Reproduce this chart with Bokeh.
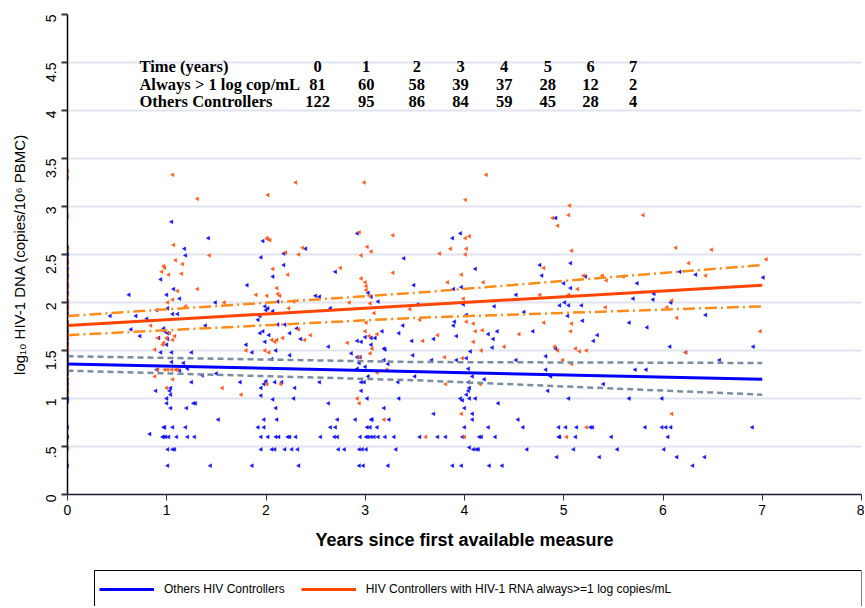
import math
from bokeh.plotting import figure
from bokeh.layouts import column
from bokeh.models import Range1d, FixedTicker, Legend, LegendItem, ColumnDataSource, BoxAnnotation
from bokeh.core.properties import value
from bokeh.embed import file_html
from bokeh.resources import INLINE

# ---------------- data ----------------
table_years = [0, 1, 2, 3, 4, 5, 6, 7]
n_always = [81, 60, 58, 39, 37, 28, 12, 2]
n_others = [122, 95, 86, 84, 59, 45, 28, 4]
table_row_titles = ["Time (years)", "Always > 1 log cop/mL", "Others Controllers"]

y_ticks = [0, 0.5, 1, 1.5, 2, 2.5, 3, 3.5, 4, 4.5, 5]
y_tick_labels = ["0", ".5", "1", "1.5", "2", "2.5", "3", "3.5", "4", "4.5", "5"]
x_ticks = [0, 1, 2, 3, 4, 5, 6, 7, 8]

legend_labels = ["Others HIV Controllers",
                 "HIV Controllers with HIV-1 RNA always>=1 log copies/mL"]

# regression fits and confidence bands
fit_x = [0, 7]
others_fit = [1.36, 1.20]
always_fit = [1.76, 2.18]
ci_x = [0, 3.5, 7]
others_ci_hi = [1.44, 1.38, 1.37]
others_ci_lo = [1.29, 1.19, 1.04]
always_ci_hi = [1.86, 2.10, 2.39]
always_ci_lo = [1.66, 1.84, 1.96]

# individual measures (years, log10 DNA) - HIV-1 RNA always >= 1 log
always_year0 = [(0, 3.37), (0, 3.30), (0, 2.90), (0, 2.55), (0, 2.45), (0, 2.40), (0, 2.32), (0, 2.25),
                (0, 2.20), (0, 2.15), (0, 2.08), (0, 2.02), (0, 1.97), (0, 1.92), (0, 1.86), (0, 1.80),
                (0, 1.74), (0, 1.68), (0, 1.62), (0, 1.55), (0, 1.50), (0, 1.42), (0, 1.35), (0, 1.28),
                (0, 1.20), (0, 1.12), (0, 1.05), (0, 0.48)]
always_years1_2 = [(1.06, 3.33), (1.31, 3.08), (2.30, 3.25), (2.02, 3.12), (2.02, 2.66), (2.04, 2.65),
                   (2.01, 2.67), (1.07, 2.60), (1.43, 2.49), (2.20, 2.52), (0.97, 2.38), (0.98, 2.36),
                   (0.95, 2.32), (1.02, 2.29), (1.16, 2.40), (1.15, 2.30), (1.09, 2.44), (1.31, 2.14),
                   (1.11, 2.12), (1.06, 2.03), (1.01, 2.00), (1.19, 1.96), (2.07, 2.35), (2.22, 2.29),
                   (2.11, 2.15), (2.12, 2.09), (2.14, 2.07), (2.01, 2.07), (1.90, 2.08), (2.28, 2.01),
                   (2.23, 1.94), (1.58, 2.00), (0.84, 1.76), (0.91, 1.63), (1.00, 1.63), (0.96, 1.56),
                   (1.03, 1.68), (1.06, 1.61), (1.08, 1.65), (0.97, 1.58), (2.06, 1.61), (2.09, 1.59),
                   (2.11, 1.61), (2.17, 1.63), (1.80, 1.50), (1.99, 1.50), (2.03, 1.48), (0.88, 1.51),
                   (0.91, 1.30), (0.98, 1.30), (1.01, 1.30), (1.05, 1.30), (1.09, 1.30), (1.11, 1.30),
                   (0.88, 1.23), (1.06, 1.20), (1.00, 1.11), (1.56, 1.11), (1.75, 1.04), (2.01, 1.15),
                   (2.15, 1.15)]
always_years3_4 = [(2.99, 3.25), (4.22, 3.33), (4.01, 3.07), (2.94, 2.73), (3.28, 2.70), (3.02, 2.58),
                   (3.06, 2.53), (2.96, 2.49), (2.37, 2.57), (2.33, 2.50), (3.75, 2.51), (3.86, 2.56),
                   (4.01, 2.67), (4.05, 2.69), (4.02, 2.56), (4.01, 2.50), (2.75, 2.36), (3.28, 2.31),
                   (3.97, 2.29), (2.96, 2.25), (3.00, 2.21), (3.01, 2.17), (3.01, 2.13), (3.04, 2.07),
                   (2.84, 2.00), (3.83, 2.21), (4.19, 2.21), (3.99, 2.04), (3.05, 1.99), (3.09, 1.89),
                   (3.45, 1.93), (3.55, 1.82), (3.01, 1.79), (4.02, 1.80), (4.09, 1.78), (2.33, 1.72),
                   (2.45, 1.66), (2.39, 1.61), (3.00, 1.70), (3.12, 1.67), (3.04, 1.65), (3.73, 1.66),
                   (3.58, 1.60), (4.11, 1.70), (4.18, 1.71), (4.09, 1.59), (2.82, 1.58), (4.40, 1.54),
                   (3.07, 1.52), (3.05, 1.47), (4.17, 1.50), (3.80, 1.43), (3.98, 1.42), (2.94, 1.43),
                   (3.22, 1.30), (3.12, 1.27), (3.81, 1.15), (4.16, 1.15), (2.92, 1.00), (2.94, 0.95),
                   (3.19, 0.78), (3.97, 0.84), (3.61, 0.60), (4.00, 0.60)]
always_years5_7 = [(5.06, 3.01), (5.05, 2.91), (4.89, 2.88), (4.94, 2.80), (5.80, 2.91), (5.08, 2.54),
                   (6.13, 2.57), (6.49, 2.55), (6.26, 2.41), (7.04, 2.45), (4.80, 2.36), (5.20, 2.28),
                   (5.39, 2.28), (5.43, 2.23), (5.60, 2.27), (6.43, 2.28), (5.14, 2.14), (5.05, 2.08),
                   (4.76, 2.08), (6.09, 2.02), (6.04, 1.95), (5.42, 1.95), (6.14, 1.84), (4.80, 1.79),
                   (5.08, 1.78), (5.07, 1.70), (4.55, 1.67), (6.98, 1.70), (4.91, 1.54), (4.94, 1.50),
                   (5.12, 1.52), (5.16, 1.49), (5.23, 1.50), (6.23, 1.48), (4.99, 1.40), (5.08, 1.36),
                   (6.09, 0.84), (5.23, 0.70), (5.03, 0.60)]

# individual measures - other HIV controllers
others_year0 = [(0, 2.57), (0, 2.50), (0, 2.42), (0, 2.35), (0, 2.28), (0, 2.18), (0, 2.10), (0, 2.00),
                (0, 1.95), (0, 1.88), (0, 1.78), (0, 1.70), (0, 1.63), (0, 1.57), (0, 1.50), (0, 1.45),
                (0, 1.40), (0, 1.33), (0, 1.26), (0, 1.20), (0, 1.15), (0, 1.08), (0, 1.00), (0, 0.97),
                (0, 0.70), (0, 0.60), (0, 0.30)]
others_years1_2 = [(1.05, 2.84), (1.42, 2.67), (1.18, 2.56), (1.19, 2.49), (1.97, 2.64), (1.95, 2.47),
                   (2.18, 2.51), (2.18, 2.39), (0.94, 2.24), (1.07, 2.14), (1.00, 2.08), (1.13, 2.04),
                   (2.07, 2.27), (1.81, 2.18), (0.62, 2.08), (1.49, 2.00), (0.90, 1.92), (1.01, 1.94),
                   (1.06, 1.88), (1.11, 1.88), (0.43, 1.86), (0.69, 1.86), (1.99, 1.96), (2.02, 1.94),
                   (2.00, 1.92), (2.07, 1.91), (2.12, 2.01), (0.80, 1.83), (1.39, 1.76), (0.64, 1.72),
                   (0.73, 1.65), (0.97, 1.73), (0.98, 1.70), (1.01, 1.68), (0.92, 1.63), (1.01, 1.62),
                   (1.00, 1.56), (1.92, 1.82), (1.94, 1.86), (1.97, 1.70), (1.94, 1.68), (1.99, 1.59),
                   (2.03, 1.66), (2.12, 1.77), (2.19, 1.77), (2.24, 1.68), (2.31, 1.73), (1.80, 1.56),
                   (1.86, 1.48), (0.94, 1.48), (1.05, 1.48), (1.25, 1.48), (2.10, 1.50), (2.06, 1.41),
                   (0.90, 1.30), (1.05, 1.38), (1.17, 1.37), (1.21, 1.31), (1.13, 1.29), (1.36, 1.24),
                   (1.50, 1.26), (1.74, 1.17), (1.25, 1.17), (0.89, 1.08), (1.04, 1.11), (1.03, 1.08),
                   (1.04, 1.04), (1.00, 1.00), (1.00, 0.95), (1.04, 0.90), (1.20, 0.90), (1.27, 0.95),
                   (1.29, 0.95), (1.95, 1.11), (1.98, 1.15), (2.00, 1.18), (2.09, 1.17), (2.16, 1.17),
                   (1.95, 1.03), (2.07, 0.99), (2.10, 0.90), (2.28, 1.00), (1.52, 0.78), (1.98, 0.78),
                   (2.11, 0.78), (0.97, 0.70), (0.98, 0.70), (1.06, 0.70), (1.19, 0.70), (1.92, 0.70),
                   (1.98, 0.70), (0.96, 0.60), (0.97, 0.60), (0.99, 0.60), (1.02, 0.60), (1.10, 0.60),
                   (1.21, 0.60), (1.28, 0.60), (1.95, 0.60), (2.02, 0.60), (2.10, 0.60), (2.13, 0.60),
                   (2.22, 0.60), (0.83, 0.63), (1.01, 0.47), (1.06, 0.47), (1.08, 0.47), (1.95, 0.47),
                   (2.06, 0.47), (2.09, 0.47), (2.19, 0.47), (1.01, 0.30), (1.44, 0.30), (1.86, 0.30)]
others_years3_4 = [(2.92, 2.72), (3.88, 2.67), (3.96, 2.72), (2.40, 2.56), (3.39, 2.46), (2.70, 2.32),
                   (4.11, 2.35), (3.49, 2.18), (2.50, 2.07), (2.54, 2.06), (3.89, 2.14), (3.97, 2.16),
                   (3.06, 2.06), (3.03, 2.10), (3.13, 2.01), (2.65, 1.94), (3.53, 1.98), (3.99, 1.98),
                   (4.30, 1.96), (4.52, 2.08), (4.02, 1.87), (3.38, 1.76), (3.90, 1.80), (3.89, 1.76),
                   (3.17, 1.70), (3.34, 1.68), (3.92, 1.65), (4.24, 1.67), (4.33, 1.70), (4.29, 1.62),
                   (2.35, 1.62), (2.63, 1.54), (2.92, 1.60), (2.96, 1.59), (3.00, 1.64), (3.06, 1.63),
                   (3.10, 1.63), (3.06, 1.56), (3.47, 1.60), (3.69, 1.62), (4.28, 1.53), (3.19, 1.52),
                   (3.20, 1.51), (2.86, 1.47), (2.92, 1.43), (2.95, 1.43), (2.94, 1.37), (2.24, 1.45),
                   (3.48, 1.45), (4.06, 1.49), (3.67, 1.40), (3.92, 1.40), (4.02, 1.42), (3.19, 1.40),
                   (3.23, 1.36), (3.00, 1.33), (2.92, 1.31), (3.03, 1.23), (4.52, 1.40), (3.50, 1.23),
                   (3.33, 1.17), (4.04, 1.31), (4.08, 1.23), (4.04, 1.17), (4.20, 1.20), (2.29, 1.11),
                   (2.54, 1.17), (2.96, 1.17), (2.99, 1.17), (2.96, 1.08), (4.05, 1.11), (4.04, 1.08),
                   (4.02, 1.04), (3.02, 1.00), (3.34, 1.00), (3.96, 1.00), (3.98, 0.98), (4.05, 1.00),
                   (4.11, 1.00), (4.34, 0.95), (3.19, 0.90), (3.69, 0.84), (4.00, 0.90), (4.08, 0.84),
                   (2.63, 0.95), (2.72, 0.78), (2.90, 0.78), (3.06, 0.78), (3.07, 0.78), (3.24, 0.78),
                   (4.08, 0.78), (4.54, 0.78), (2.65, 0.70), (2.70, 0.70), (3.02, 0.70), (3.05, 0.70),
                   (3.12, 0.70), (4.00, 0.70), (4.24, 0.70), (2.24, 0.60), (2.30, 0.60), (2.55, 0.60),
                   (2.69, 0.60), (2.72, 0.60), (2.95, 0.60), (3.01, 0.60), (3.03, 0.60), (3.06, 0.60),
                   (3.09, 0.60), (3.13, 0.60), (3.20, 0.60), (3.29, 0.60), (3.55, 0.60), (3.73, 0.60),
                   (3.81, 0.60), (3.98, 0.60), (4.15, 0.60), (4.17, 0.60), (4.31, 0.60), (2.26, 0.47),
                   (2.32, 0.47), (2.73, 0.47), (2.79, 0.47), (2.94, 0.47), (2.97, 0.47), (3.01, 0.47),
                   (3.31, 0.47), (4.05, 0.49), (4.09, 0.47), (4.12, 0.47), (4.14, 0.47), (4.63, 0.47),
                   (2.33, 0.30), (2.94, 0.30), (2.98, 0.30), (3.23, 0.30), (3.88, 0.30), (3.97, 0.30),
                   (4.25, 0.30), (4.38, 0.30)]
others_years5_7 = [(4.92, 2.88), (4.76, 2.39), (5.07, 2.41), (4.78, 2.28), (5.00, 2.20), (5.07, 2.15),
                   (5.22, 2.27), (5.74, 2.20), (6.17, 2.32), (6.33, 2.29), (7.01, 2.26), (5.91, 2.09),
                   (5.70, 2.04), (5.90, 2.03), (4.96, 1.97), (5.01, 2.00), (5.05, 1.97), (5.18, 1.97),
                   (6.08, 2.00), (4.60, 1.90), (5.04, 1.86), (6.43, 1.87), (5.19, 1.81), (5.66, 1.79),
                   (4.69, 1.70), (5.84, 1.74), (5.34, 1.66), (5.30, 1.60), (6.07, 1.54), (4.92, 1.52),
                   (6.91, 1.54), (4.82, 1.44), (6.23, 1.48), (6.57, 1.40), (4.82, 1.30), (4.87, 1.23),
                   (5.72, 1.30), (5.83, 1.30), (5.40, 1.15), (4.84, 1.08), (5.05, 1.00), (5.66, 1.00),
                   (5.99, 1.00), (4.59, 0.70), (4.95, 0.70), (5.02, 0.70), (5.13, 0.70), (5.27, 0.70),
                   (5.29, 0.70), (5.82, 0.70), (5.99, 0.70), (6.03, 0.70), (6.08, 0.70), (6.90, 0.70),
                   (4.95, 0.60), (4.96, 0.60), (5.12, 0.60), (5.48, 0.60), (6.05, 0.60), (5.10, 0.47),
                   (5.54, 0.47), (6.01, 0.47), (4.93, 0.39), (5.36, 0.39), (6.14, 0.39), (6.42, 0.39),
                   (6.30, 0.30)]

# ---------------- styles ----------------
BLUE = "#0000FF"
RED = "#FF4500"
ORANGE = "#FF8C1A"
GREY = "#7B8EA0"
SANS = "Liberation Sans"
SERIF = "Liberation Serif"

p = figure(width=864, height=558, x_range=Range1d(0, 8), y_range=Range1d(0, 5),
           output_backend="svg", toolbar_location=None,
           min_border_left=67, min_border_right=3, min_border_top=14, min_border_bottom=64)
p.outline_line_color = None
p.background_fill_color = "white"
p.border_fill_color = "white"

# axes
yt = FixedTicker(ticks=y_ticks)
p.yaxis.ticker = yt
p.ygrid.ticker = yt
p.yaxis.major_label_overrides = {(int(t) if float(t).is_integer() else t): lab
                                 for t, lab in zip(y_ticks, y_tick_labels)}
p.yaxis.major_label_orientation = math.pi / 2
p.yaxis.axis_label = "log\u2081\u2080 HIV-1 DNA (copies/10\u2076 PBMC)"
p.yaxis.axis_label_text_font = SANS
p.yaxis.axis_label_text_font_style = "normal"
p.yaxis.axis_label_text_font_size = "15px"
p.yaxis.axis_label_text_color = "black"
p.yaxis.axis_label_standoff = 10
p.yaxis.major_label_text_font = SANS
p.yaxis.major_label_text_font_size = "14px"
p.yaxis.major_label_text_color = "black"
p.yaxis.major_label_standoff = 11
p.yaxis.axis_line_color = "black"
p.yaxis.axis_line_width = 1.5
p.yaxis.major_tick_line_color = "#333333"
p.yaxis.major_tick_line_width = 2
p.yaxis.major_tick_out = 6
p.yaxis.major_tick_in = 0
p.yaxis.minor_tick_line_color = None

xt = FixedTicker(ticks=x_ticks)
p.xaxis.ticker = xt
p.xaxis.axis_label = "Years since first available measure"
p.xaxis.axis_label_text_font = SANS
p.xaxis.axis_label_text_font_style = "bold"
p.xaxis.axis_label_text_font_size = "18px"
p.xaxis.axis_label_text_color = "black"
p.xaxis.axis_label_standoff = 12
p.xaxis.major_label_text_font = SANS
p.xaxis.major_label_text_font_size = "14px"
p.xaxis.major_label_text_color = "black"
p.xaxis.major_label_standoff = 4
p.xaxis.axis_line_color = "#1a1a33"
p.xaxis.axis_line_width = 1.5
p.xaxis.major_tick_line_color = "#333333"
p.xaxis.major_tick_line_width = 1
p.xaxis.major_tick_out = 6
p.xaxis.major_tick_in = 0
p.xaxis.minor_tick_line_color = None

p.xgrid.visible = False
p.ygrid.grid_line_color = "#DFE4EE"
p.ygrid.grid_line_width = 2

# scatter of individual measures
others_pts = others_year0 + others_years1_2 + others_years3_4 + others_years5_7
always_pts = always_year0 + always_years1_2 + always_years3_4 + always_years5_7
src_o = ColumnDataSource(dict(x=[a for a, b in others_pts], y=[b for a, b in others_pts]))
src_a = ColumnDataSource(dict(x=[a for a, b in always_pts], y=[b for a, b in always_pts]))
p.scatter("x", "y", source=src_o, marker="triangle", size=3.8, angle=math.pi / 2,
          fill_color="#1414F5", line_color="#1414F5", line_width=0.5)
p.scatter("x", "y", source=src_a, marker="triangle", size=3.8, angle=math.pi / 2,
          fill_color="#FF5A1E", line_color="#FF5A1E", line_width=0.5)

# confidence bands
p.line(ci_x, others_ci_hi, line_color=GREY, line_width=2.5, line_dash="6 4")
p.line(ci_x, others_ci_lo, line_color=GREY, line_width=2.5, line_dash="6 4")
p.line(ci_x, always_ci_hi, line_color=ORANGE, line_width=2.5, line_dash="12 4 2 4")
p.line(ci_x, always_ci_lo, line_color=ORANGE, line_width=2.5, line_dash="12 4 2 4")

# fitted lines
p.line(fit_x, others_fit, line_color=BLUE, line_width=3)
p.line(fit_x, always_fit, line_color=RED, line_width=3)

# table of numbers at risk
row_x = 0.725
row_y = [4.46, 4.27, 4.09]
col_x = [2.52, 3.01, 3.52, 3.96, 4.40, 4.84, 5.27, 5.70]
p.text(x=[row_x] * 3, y=row_y, text=table_row_titles, text_font=value(SERIF),
       text_font_style="bold", text_font_size="16.5px", text_baseline="middle", text_align="left",
       text_color="black")
tx, ty, tt = [], [], []
for vals, yy in zip([table_years, n_always, n_others], row_y):
    for cx, v in zip(col_x, vals):
        tx.append(cx)
        ty.append(yy)
        tt.append(str(v))
p.text(x=tx, y=ty, text=tt, text_font=value(SERIF), text_font_style="bold",
       text_font_size="16.5px", text_baseline="middle", text_align="center", text_color="black")

# legend strip under the plot (separate figure; its lines lie outside its view, only the
# legend swatches show)
pl = figure(width=864, height=48, output_backend="svg", toolbar_location=None,
            x_range=Range1d(0, 8), y_range=Range1d(10, 11),
            x_axis_type=None, y_axis_type=None, min_border_left=0, min_border_right=0,
            min_border_top=0, min_border_bottom=0)
pl.outline_line_color = None
pl.xgrid.visible = False
pl.ygrid.visible = False
legend_frame = BoxAnnotation(left=27, right=794, bottom=-6, top=36,
                             left_units="screen", right_units="screen",
                             bottom_units="screen", top_units="screen",
                             fill_color="white", fill_alpha=1,
                             line_color="black", line_width=1, line_alpha=1)
pl.add_layout(legend_frame)
lo = pl.line(fit_x, others_fit, line_color=BLUE, line_width=3)
la = pl.line(fit_x, always_fit, line_color=RED, line_width=3)
legend = Legend(items=[LegendItem(label=legend_labels[0], renderers=[lo]),
                       LegendItem(label=legend_labels[1], renderers=[la])],
                orientation="horizontal", location=(32, 4), margin=0, padding=0,
                spacing=16, glyph_width=55, glyph_height=26, label_height=26,
                label_width=100, label_standoff=10,
                label_text_font=SANS, label_text_font_size="12px", label_text_color="black",
                border_line_color=None, background_fill_alpha=0)
pl.add_layout(legend)

layout = column(p, pl, spacing=0)
open("out.html", "w").write(file_html(layout, INLINE))
